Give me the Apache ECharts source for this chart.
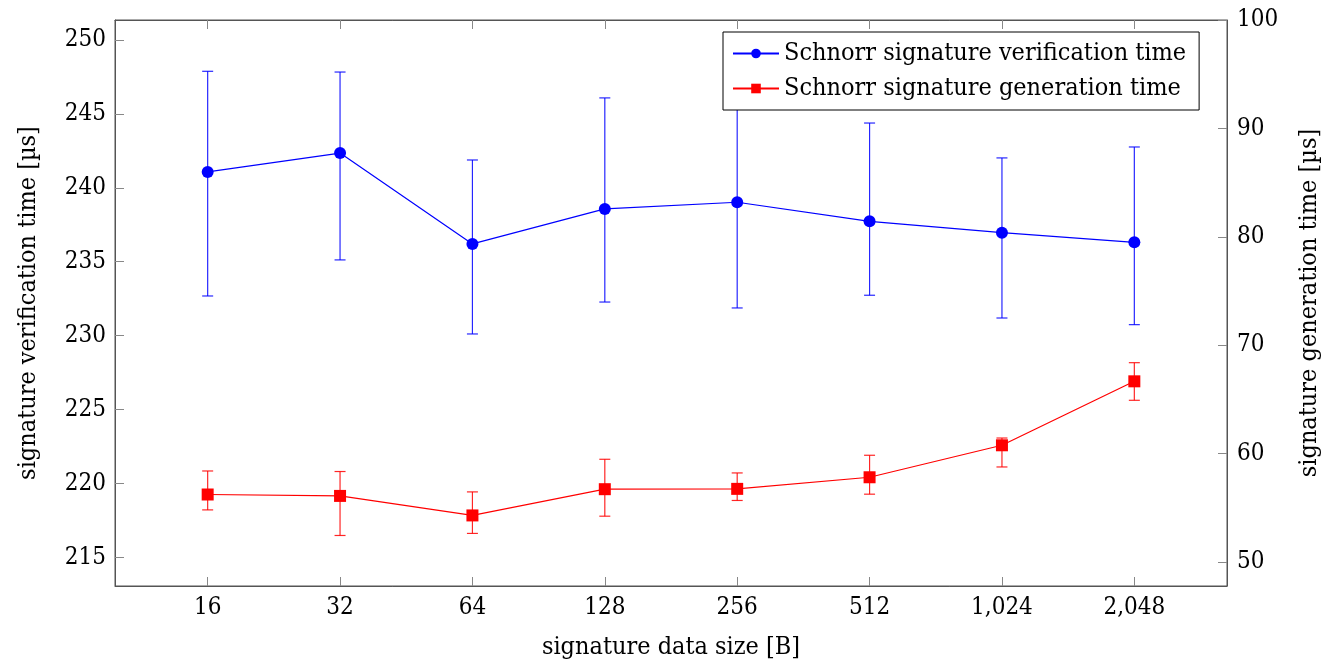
<!DOCTYPE html>
<html>
<head>
<meta charset="utf-8">
<script src="https://cdn.jsdelivr.net/npm/echarts@6/dist/echarts.min.js"></script>
<style>
  html, body { margin: 0; padding: 0; background: #fff; }
  #chart { width: 1328px; height: 666px; }
</style>
</head>
<body>
<div id="chart"></div>
<script>
var sizes = ['16', '32', '64', '128', '256', '512', '1,024', '2,048'];

// verification time, left axis [us]
var verifyMean = [241.07, 242.35, 236.20, 238.57, 239.02, 237.73, 236.96, 236.31];
var verifyLow  = [232.68, 235.12, 230.11, 232.27, 231.87, 232.73, 231.19, 230.74];
var verifyHigh = [247.88, 247.83, 241.88, 246.08, 248.00, 244.38, 242.02, 242.76];

// generation time, right axis [us]
var genMean = [56.23, 56.10, 54.30, 56.72, 56.75, 57.82, 60.77, 66.67];
var genLow  = [54.81, 52.45, 52.64, 54.23, 55.68, 56.26, 58.77, 64.92];
var genHigh = [58.40, 58.35, 56.47, 59.48, 58.22, 59.85, 61.44, 68.39];

var leftTicks = [215, 220, 225, 230, 235, 240, 245, 250];
var rightTicks = [50, 60, 70, 80, 90, 100];

var font = "'DejaVu Serif Condensed', 'DejaVu Serif', serif";
var fs = 24;      // tick labels
var fsName = 25;  // axis names, legend
var frameColor = '#555';
var tickColor = '#888';
var xIdx = sizes.map(function (s, i) { return i; });

function points(vals) {
    return vals.map(function (v, i) { return [i, v]; });
}
function bars(low, high) {
    return low.map(function (v, i) { return [i, v, high[i]]; });
}
function errorBar(color) {
    return function (params, api) {
        var x = api.value(0);
        var lo = api.coord([x, api.value(1)]);
        var hi = api.coord([x, api.value(2)]);
        var w = 5.5;
        var style = { stroke: color, lineWidth: 1.2, opacity: 0.85 };
        return {
            type: 'group',
            children: [
                { type: 'line', shape: { x1: lo[0], y1: lo[1], x2: hi[0], y2: hi[1] }, style: style },
                { type: 'line', shape: { x1: lo[0] - w, y1: lo[1], x2: lo[0] + w, y2: lo[1] }, style: style },
                { type: 'line', shape: { x1: hi[0] - w, y1: hi[1], x2: hi[0] + w, y2: hi[1] }, style: style }
            ]
        };
    };
}

var chart = echarts.init(document.getElementById('chart'));
var option = {
    animation: false,
    textStyle: { fontFamily: font },
    grid: {
        left: 115, right: 101, top: 20, bottom: 80,
        containLabel: false, outerBoundsMode: 'none',
        show: true, borderColor: frameColor, borderWidth: 1
    },
    legend: {
        orient: 'vertical',
        left: 723,
        top: 32,
        data: ['Schnorr signature verification time', 'Schnorr signature generation time'],
        itemWidth: 46,
        itemHeight: 12,
        itemGap: 10,
        padding: [9, 13, 9, 9],
        borderColor: '#000',
        borderWidth: 1,
        backgroundColor: '#fff',
        textStyle: { fontFamily: font, fontSize: fsName, color: '#000' }
    },
    xAxis: [
        {
            type: 'value',
            min: -0.7,
            max: 7.7,
            position: 'bottom',
            name: 'signature data size [B]',
            nameLocation: 'middle',
            nameGap: 49,
            nameTextStyle: { fontFamily: font, fontSize: fsName, color: '#000' },
            axisLine: { onZero: false, lineStyle: { color: frameColor } },
            axisTick: { inside: true, length: 9, customValues: xIdx, lineStyle: { color: tickColor } },
            axisLabel: {
                customValues: xIdx,
                margin: 10,
                fontFamily: font,
                fontSize: fs,
                color: '#000',
                formatter: function (v) { return sizes[Math.round(v)]; }
            },
            splitLine: { show: false }
        },
        {
            type: 'value',
            min: -0.7,
            max: 7.7,
            position: 'top',
            axisLine: { onZero: false, lineStyle: { color: frameColor } },
            axisTick: { inside: true, length: 9, customValues: xIdx, lineStyle: { color: tickColor } },
            axisLabel: { show: false },
            splitLine: { show: false }
        }
    ],
    yAxis: [
        {
            type: 'value',
            min: 213.06,
            max: 251.35,
            position: 'left',
            name: 'signature verification time [µs]',
            nameLocation: 'middle',
            nameGap: 74,
            nameRotate: 90,
            nameTextStyle: { fontFamily: font, fontSize: fsName, color: '#000' },
            axisLine: { show: true, onZero: false, lineStyle: { color: frameColor } },
            axisTick: { inside: true, length: 9, customValues: leftTicks, lineStyle: { color: tickColor } },
            axisLabel: { customValues: leftTicks, margin: 9, fontFamily: font, fontSize: fs, color: '#000' },
            splitLine: { show: false }
        },
        {
            type: 'value',
            min: 47.79,
            max: 100,
            position: 'right',
            name: 'signature generation time [µs]',
            nameLocation: 'middle',
            nameGap: 70,
            nameRotate: 90,
            nameTextStyle: { fontFamily: font, fontSize: fsName, color: '#000' },
            axisLine: { show: true, onZero: false, lineStyle: { color: frameColor } },
            axisTick: { inside: true, length: 9, customValues: rightTicks, lineStyle: { color: tickColor } },
            axisLabel: { customValues: rightTicks, margin: 10, fontFamily: font, fontSize: fs, color: '#000' },
            splitLine: { show: false }
        }
    ],
    series: [
        {
            name: 'verifyErr',
            type: 'custom',
            xAxisIndex: 0,
            yAxisIndex: 0,
            renderItem: errorBar('#0000ff'),
            encode: { x: 0, y: [1, 2] },
            data: bars(verifyLow, verifyHigh),
            z: 2
        },
        {
            name: 'genErr',
            type: 'custom',
            xAxisIndex: 0,
            yAxisIndex: 1,
            renderItem: errorBar('#ff0000'),
            encode: { x: 0, y: [1, 2] },
            data: bars(genLow, genHigh),
            z: 2
        },
        {
            name: 'Schnorr signature verification time',
            type: 'line',
            xAxisIndex: 0,
            yAxisIndex: 0,
            data: points(verifyMean),
            symbol: 'circle',
            symbolSize: 12,
            color: '#0000ff',
            lineStyle: { color: '#0000ff', width: 1.2 },
            itemStyle: { color: '#0000ff' },
            z: 3
        },
        {
            name: 'Schnorr signature generation time',
            type: 'line',
            xAxisIndex: 0,
            yAxisIndex: 1,
            data: points(genMean),
            symbol: 'rect',
            symbolSize: 12,
            color: '#ff0000',
            lineStyle: { color: '#ff0000', width: 1.2 },
            itemStyle: { color: '#ff0000' },
            z: 3
        }
    ]
};
chart.setOption(option);
</script>
</body>
</html>
